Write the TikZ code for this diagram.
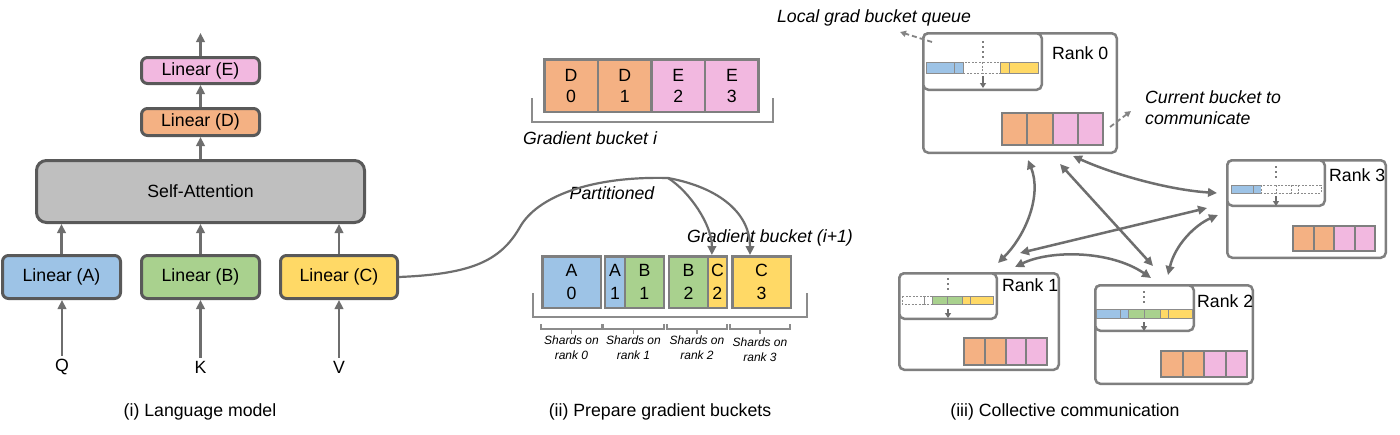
\documentclass[tikz,border=0pt]{standalone}
\usepackage{fontspec}
\setmainfont{Liberation Sans}
\usetikzlibrary{arrows.meta,calc}
\definecolor{cA}{HTML}{9DC3E6}
\definecolor{cB}{HTML}{A9D18E}
\definecolor{cC}{HTML}{FFD966}
\definecolor{cD}{HTML}{F4B183}
\definecolor{cE}{HTML}{F2B8E0}
\definecolor{cSA}{HTML}{BFBFBF}
\definecolor{dk}{HTML}{595959}
\definecolor{md}{HTML}{7F7F7F}
\definecolor{ar}{HTML}{6E6E6E}
\newcommand\fsbig{\fontsize{17.7}{21}\selectfont}
\newcommand\fscell{\fontsize{17.7}{23}\selectfont}
\newcommand\fssmall{\fontsize{12}{15}\selectfont}
% queue bar: x, y, width, height, list of from/to/colour/dashed
\newcommand\qbar[5]{%
  \foreach \fa/\fb/\fc/\fd in {#5}{%
    \ifnum\fd=1
      \draw[segdash] ({#1+\fa*#3},#2) rectangle ({#1+\fb*#3},{#2+#4});
    \else
      \draw[segsolid, fill=\fc] ({#1+\fa*#3},#2) rectangle ({#1+\fb*#3},{#2+#4});
    \fi}}
% four bucket cells: name prefix, left x, centre y, cell width, cell height
\newcommand\bucketcells[5]{%
  \foreach \ci/\cc in {1/cD,2/cD,3/cE,4/cE}{%
    \node[rcell, fill=\cc, minimum width=#4, minimum height=#5] (#1\ci) at ({#2+(\ci-0.5)*#4},#3) {};}}
\begin{document}
\begin{tikzpicture}[x=1pt,y=-1pt,
  layer/.style={draw=dk, line width=3pt, rounded corners=6pt, minimum width=118pt, inner sep=0pt, font=\fsbig},
  cell/.style={draw=md, line width=2.5pt, inner sep=0pt, align=center},
  rcell/.style={draw=md, line width=2pt, inner sep=0pt},
  rankbox/.style={draw=md, line width=2.5pt, rounded corners=5pt, fill=white, inner sep=0pt},
  lbl/.style={inner sep=0pt, font=\fsbig},
  itl/.style={inner sep=0pt, font=\fsbig\itshape},
  capt/.style={inner sep=0pt, font=\fsbig},
  arr/.style={draw=ar, line width=2.5pt, -{Triangle[length=9pt,width=8.5pt]}},
  biarr/.style={draw=ar, line width=2.5pt, {Triangle[length=9pt,width=8.5pt]}-{Triangle[length=9pt,width=8.5pt]}},
  curvearr/.style={draw=ar, line width=2.2pt, -{Triangle[length=9pt,width=8.5pt]}},
  dasharr/.style={draw=ar!85, line width=1.8pt, dash pattern=on 5pt off 3pt, -{Triangle[length=6pt,width=6pt]}},
  brk/.style={draw=md!90, line width=2pt},
  sbrk/.style={draw=md!90, line width=1.3pt},
  segsolid/.style={draw=gray!90, line width=0.8pt},
  segdash/.style={draw=gray!90, line width=0.8pt, fill=white, dash pattern=on 2pt off 1.5pt},
  qdots/.style={draw=md, line width=1.6pt, dash pattern=on 2pt off 3pt},
  qarr/.style={draw=ar, line width=1.5pt, -{Triangle[length=5pt,width=6pt]}}
]
\useasboundingbox (0,0) rectangle (1400,434);
\fill[white] (0,0) rectangle (1400,434);

% ---------------- (i) Language model ----------------
\node[layer, fill=cE, minimum height=26pt] (lE) at (200.5,70.5) {Linear (E)};
\node[layer, fill=cD, minimum height=27pt] (lD) at (200.5,122) {Linear (D)};
\node[layer, fill=cSA, minimum width=328pt, minimum height=62pt, rounded corners=10pt] (sa) at (200.5,191.5) {Self-Attention};
\node[layer, fill=cA, minimum height=43pt] (lA) at (61.5,277) {Linear (A)};
\node[layer, fill=cB, minimum height=43pt] (lB) at (200.5,277) {Linear (B)};
\node[layer, fill=cC, minimum height=43pt, minimum width=117pt] (lC) at (339,277) {Linear (C)};
\node[lbl] (q) at (62,367) {Q};
\node[lbl] (k) at (200.5,367) {K};
\node[lbl] (v) at (339,367) {V};
\coordinate (out) at (200.5,33);
\draw[arr, shorten <=3pt] (q.north) -- (q.north |- lA.south);
\draw[arr, shorten <=3pt] (k.north) -- (lB.south);
\draw[arr, shorten <=3pt] (v.north) -- (lC.south);
\draw[arr] (lA.north) -- (lA.north |- sa.south);
\draw[arr] (lB.north) -- (sa.south);
\draw[arr] (lC.north) -- (lC.north |- sa.south);
\draw[arr] (sa.north) -- (lD.south);
\draw[arr] (lD.north) -- (lE.south);
\draw[arr] (lE.north) -- (out);
\node[capt] (cap1) at (200,412) {(i) Language model};

% ---------------- (ii) Prepare gradient buckets ----------------
\node[cell, fill=cD, minimum width=53.6pt, minimum height=52.5pt, font=\fsbig] (d0) at (571.1,85.5) {D\\0};
\node[cell, fill=cD, minimum width=53.6pt, minimum height=52.5pt, font=\fsbig] (d1) at (624.7,85.5) {D\\1};
\node[cell, fill=cE, minimum width=53.6pt, minimum height=52.5pt, font=\fsbig] (e2) at (678.3,85.5) {E\\2};
\node[cell, fill=cE, minimum width=53.6pt, minimum height=52.5pt, font=\fsbig] (e3) at (731.9,85.5) {E\\3};
\draw[brk] (532,98) -- (532,122) -- (773,122) -- (773,98);
\node[itl, anchor=west] (gbi) at (523,138) {Gradient bucket i};

\node[cell, fill=cA, minimum width=58.5pt, minimum height=51.5pt, font=\fscell] (a0) at (571.5,282) {A\\0};
\node[cell, fill=cA, minimum width=19.75pt, minimum height=51.5pt, font=\fscell] (a1) at (615.1,282) {A\\1};
\node[cell, fill=cB, minimum width=38.75pt, minimum height=51.5pt, font=\fscell] (b1) at (644.4,282) {B\\1};
\node[cell, fill=cB, minimum width=38.75pt, minimum height=51.5pt, font=\fscell] (b2) at (688.6,282) {B\\2};
\node[cell, fill=cC, minimum width=18.75pt, minimum height=51.5pt, font=\fscell] (c2) at (717.4,282) {C\\2};
\node[cell, fill=cC, minimum width=58.5pt, minimum height=51.5pt, font=\fscell] (c3) at (761.5,282) {C\\3};
\draw[brk] (533,293) -- (533,317) -- (807,317) -- (807,293);
\foreach \xa/\xb/\rk/\ly in {541/602/0/343, 603/664/1/343, 667/727/2/343, 730/790/3/345}{
  \draw[sbrk] (\xa,324) -- (\xa,329) -- (\xb,329) -- (\xb,324);
  \draw[sbrk] ({(\xa+\xb)/2},329) -- ({(\xa+\xb)/2},334);
  \node[inner sep=0pt, font=\fssmall\itshape, align=center, anchor=north] (sh\rk) at ({(\xa+\xb)/2},{\ly-7}) {Shards on\\rank \rk};
}
\node[itl] (part) at (612,193) {Partitioned};
\node[itl] (gbi1) at (770,238) {Gradient bucket (i+1)};
\coordinate (split) at (668,178);
\draw[draw=ar, line width=2.2pt] (lC.east) .. controls (470,274) and (500,262) .. (520,227)
      .. controls (537,197) and (590,176) .. (split);
\draw[curvearr] (split) .. controls (690,192) and (712,225) .. ([xshift=-5.5pt]c2.north);
\draw[curvearr] (split) .. controls (722,188) and (750,215) .. ([xshift=-11.5pt]c3.north);
\node[capt] (cap2) at (660,412) {(ii) Prepare gradient buckets};

% ---------------- (iii) Collective communication ----------------
% rank 0
\node[rankbox, minimum width=193.5pt, minimum height=119.5pt] (r0) at (1020,93) {};
\node[rankbox, minimum width=118.5pt, minimum height=56.5pt] (q0) at (982.5,61.5) {};
\node[lbl, anchor=west] (t0) at (1052,53) {Rank 0};
\qbar{926}{62}{112}{11}{0/.251/cA/0, .251/.3374/cA/0, .3374/.502/white/1, .502/.6667/white/1, .6667/.749/cC/0, .749/1/cC/0}
\draw[qdots] (983,41) -- (983,58);
\draw[qarr] (983,76) -- (983,88);
\bucketcells{r0c}{1002}{129}{25.25}{32}
% rank 3
\node[rankbox, minimum width=158.5pt, minimum height=97.5pt] (r3) at (1306.5,209) {};
\node[rankbox, minimum width=97.5pt, minimum height=45.5pt] (q3) at (1276,183) {};
\node[lbl, anchor=west] (t3) at (1329,175) {Rank 3};
\qbar{1231}{185}{90}{8}{0/.251/cA/0, .251/.3374/cA/0, .3374/.502/white/1, .502/.6667/white/1, .6667/.749/white/1, .749/1/white/1}
\draw[qdots] (1276,166) -- (1276,179);
\draw[qarr] (1276,196) -- (1276,206);
\bucketcells{r3c}{1293}{238.5}{20.5}{25}
% rank 1
\node[rankbox, minimum width=159.5pt, minimum height=96.5pt] (r1) at (979,321.5) {};
\node[rankbox, minimum width=97.5pt, minimum height=45.5pt] (q1) at (948,296) {};
\node[lbl, anchor=west] (t1) at (1002,285) {Rank 1};
\qbar{902}{296}{91}{8}{0/.251/white/1, .251/.3374/white/1, .3374/.502/cB/0, .502/.6667/cB/0, .6667/.749/cC/0, .749/1/cC/0}
\draw[qdots] (948,278) -- (948,292);
\draw[qarr] (948,309) -- (948,318);
\bucketcells{r1c}{964}{351.5}{20.75}{27}
% rank 2
\node[rankbox, minimum width=157.5pt, minimum height=98.5pt] (r2) at (1174,334.5) {};
\node[rankbox, minimum width=98.5pt, minimum height=45.5pt] (q2) at (1144.5,308) {};
\node[lbl, anchor=west] (t2) at (1197,301) {Rank 2};
\qbar{1096}{309}{96}{9}{0/.251/cA/0, .251/.3374/cA/0, .3374/.502/cB/0, .502/.6667/cB/0, .6667/.749/cC/0, .749/1/cC/0}
\draw[qdots] (1144,291) -- (1144,305);
\draw[qarr] (1144,322) -- (1144,331);
\bucketcells{r2c}{1161}{364}{21.5}{26}

% annotations
\coordinate (lgq) at (900,32);
\coordinate (cbc) at (1131,111);
\draw[dasharr] ([xshift=10pt,yshift=-10pt]q0.north west) -- (lgq);
\draw[dasharr] ([xshift=6pt,yshift=2pt]r0c4.east) -- (cbc);
\node[itl] (lgqt) at (874,18) {Local grad bucket queue};
\node[itl, anchor=west, align=left] (cbt) at (1145,107.5) {Current bucket to\\communicate};

% communication arrows
\draw[biarr] ([xshift=8pt,yshift=-6pt]r0.south) .. controls (1042,195) and (1026,235) .. ([xshift=19pt,yshift=9pt]r1.north);
\draw[biarr] ([xshift=40pt,yshift=-10pt]r0.south) -- ([xshift=-21pt,yshift=18pt]r2.north);
\draw[biarr] ([xshift=53pt,yshift=-2pt]r0.south) .. controls (1115,175) and (1170,190) .. ([xshift=-9pt,yshift=16pt]r3.west);
\draw[biarr] ([xshift=41pt,yshift=19pt]r1.north) -- ([xshift=-19pt,yshift=1pt]r3.west);
\draw[biarr] ([xshift=36pt,yshift=5pt]r1.north) .. controls (1050,250) and (1110,250) .. ([xshift=-23pt,yshift=6pt]r2.north);
\draw[biarr] ([xshift=-6pt,yshift=9pt]r2.north) .. controls (1175,245) and (1195,225) .. ([xshift=-8pt,yshift=-6pt]r3.west);
\node[capt] (cap3) at (1065,412) {(iii) Collective communication};
\end{tikzpicture}
\end{document}
